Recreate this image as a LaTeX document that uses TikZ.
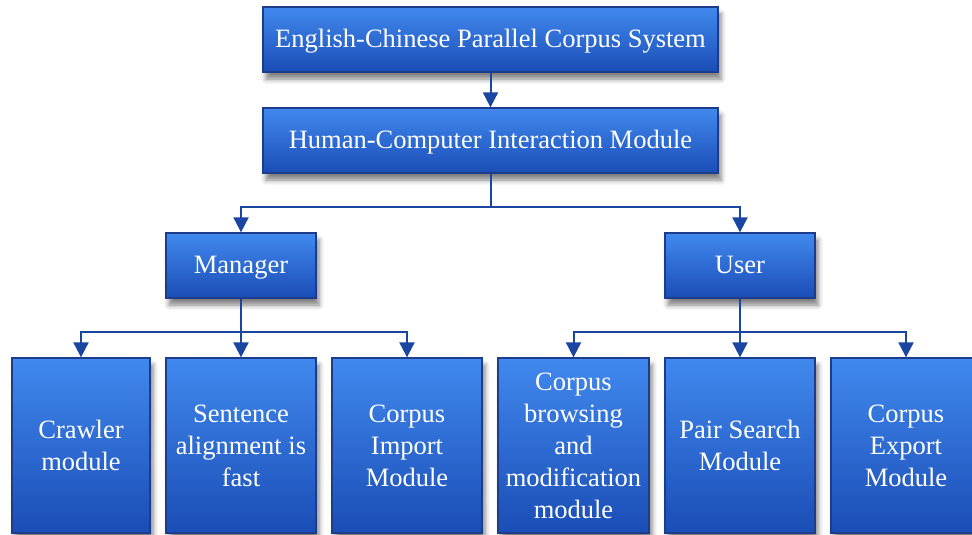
\documentclass[tikz,border=0pt]{standalone}
\usepackage{fontspec}
\setmainfont{Liberation Serif}
\usetikzlibrary{arrows.meta,shadows.blur}
\definecolor{boxtop}{HTML}{4189EE}
\definecolor{boxbot}{HTML}{1A4DB6}
\definecolor{boxline}{HTML}{1E3C8C}
\definecolor{arrline}{HTML}{1A45A0}
\tikzset{
  modbox/.style={draw=boxline,line width=1.3pt,top color=boxtop,bottom color=boxbot,
    text=white,align=center,inner sep=0pt,
    font=\fontsize{26.5}{32}\selectfont,
    blur shadow={shadow xshift=3pt,shadow yshift=-7pt,shadow blur radius=5pt,shadow opacity=50}},
  onebox/.style={modbox,text height=19pt,text depth=3.5pt,minimum height=65pt},
  arr/.style={draw=arrline,line width=2pt,-{Triangle[length=15pt,width=15pt]}}
}
\begin{document}
\begin{tikzpicture}[x=1pt,y=-1pt]
\useasboundingbox (0,0) rectangle (972,535);
\clip (0,0) rectangle (972,535);      % export box runs off the edge
\node[onebox,minimum width=455pt] (sys) at (490.5,39.5) {English-Chinese Parallel Corpus System};
\node[onebox,minimum width=455pt] (hci) at (490.5,140.5) {Human-Computer Interaction Module};
\node[onebox,minimum width=150pt] (mgr) at (241,265.5) {Manager};
\node[onebox,minimum width=150pt] (usr) at (740,265.5) {User};
% bottom row
\node[modbox,minimum width=138pt,minimum height=175pt] (crawl) at (81,445.5) {Crawler\\module};
\node[modbox,minimum width=150pt,minimum height=175pt] (align) at (241,445.5) {Sentence\\alignment is\\fast};
\node[modbox,minimum width=150pt,minimum height=175pt] (import) at (407,445.5) {Corpus\\Import\\Module};
\node[modbox,minimum width=151pt,minimum height=175pt] (browse) at (573.5,445.5) {Corpus\\browsing\\and\\modification\\module};
\node[modbox,minimum width=150pt,minimum height=175pt] (pair) at (740,445.5) {Pair Search\\Module};
\node[modbox,minimum width=150pt,minimum height=175pt] (export) at (906,445.5) {Corpus\\Export\\Module};
% connectors
\coordinate (hsplit) at (490.5,207);
\coordinate (msplit) at (241,332);
\coordinate (usplit) at (740,332);
\draw[arr] (sys) -- (hci);
\draw[arr] (hci.south) -- (hsplit) -| (mgr.north);
\draw[arr] (hsplit) -| (usr.north);
\draw[arr] (mgr.south) -- (align.north);
\draw[arr] (msplit) -| (crawl.north);
\draw[arr] (msplit) -| (import.north);
\draw[arr] (usr.south) -- (pair.north);
\draw[arr] (usplit) -| (browse.north);
\draw[arr] (usplit) -| (export.north);
\end{tikzpicture}
\end{document}
